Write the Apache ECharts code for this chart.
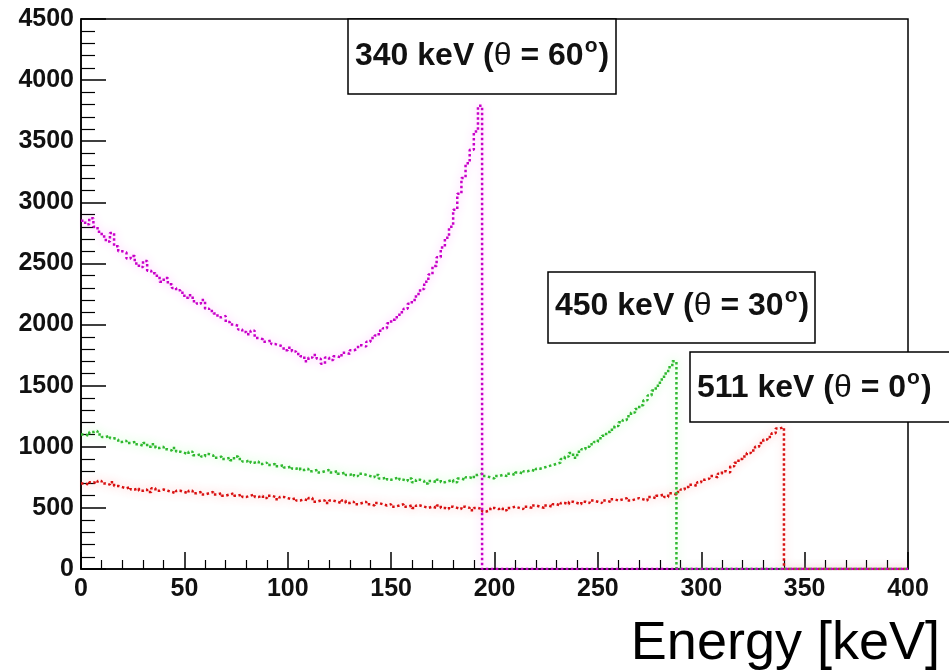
<!DOCTYPE html>
<html>
<head>
<meta charset="utf-8">
<script src="https://cdn.jsdelivr.net/npm/echarts@6/dist/echarts.min.js"></script>
<style>html,body{margin:0;padding:0;background:#fff}#c{width:949px;height:671px}</style>
</head>
<body>
<div id="c"></div>
<script>
// Bin low edges (keV), 2 keV bins
const energy = [0,2,4,6,8,10,12,14,16,18,20,22,24,26,28,30,32,34,36,38,40,42,44,46,48,50,52,54,56,58,60,62,64,66,68,70,72,74,76,78,80,82,84,86,88,90,92,94,96,98,100,102,104,106,108,110,112,114,116,118,120,122,124,126,128,130,132,134,136,138,140,142,144,146,148,150,152,154,156,158,160,162,164,166,168,170,172,174,176,178,180,182,184,186,188,190,192,194,196,198,200,202,204,206,208,210,212,214,216,218,220,222,224,226,228,230,232,234,236,238,240,242,244,246,248,250,252,254,256,258,260,262,264,266,268,270,272,274,276,278,280,282,284,286,288,290,292,294,296,298,300,302,304,306,308,310,312,314,316,318,320,322,324,326,328,330,332,334,336,338,340,342,344,346,348,350,352,354,356,358,360,362,364,366,368,370,372,374,376,378,380,382,384,386,388,390,392,394,396,398,400];

// 340 keV (theta = 60 deg) counts, from 0 keV up to the Compton edge (then 0)
const counts60 = [2850,2820,2870,2800,2760,2720,2680,2750,2640,2600,2590,2540,2560,2500,2470,2520,2440,2420,2400,2350,2380,2330,2300,2280,2260,2220,2240,2190,2170,2200,2130,2110,2090,2060,2070,2020,2000,1990,1960,1940,1920,1950,1890,1880,1860,1870,1840,1830,1820,1790,1810,1780,1760,1740,1700,1730,1750,1720,1680,1730,1710,1740,1730,1770,1760,1790,1800,1830,1820,1860,1890,1910,1950,1970,2010,2040,2060,2100,2130,2170,2200,2250,2290,2350,2410,2480,2550,2630,2710,2800,2940,3070,3200,3320,3430,3580,3790,0];

// 450 keV (theta = 30 deg)
const counts30 = [1100,1090,1120,1130,1100,1080,1090,1070,1060,1040,1050,1030,1040,1020,1010,1030,1000,1020,990,1000,980,970,990,960,950,940,960,930,940,920,940,930,910,920,900,910,890,920,900,880,890,870,880,860,870,850,860,840,850,830,840,820,830,810,820,800,810,790,800,810,790,800,780,790,770,780,760,780,770,760,750,770,740,750,730,740,750,730,720,740,710,730,720,700,720,710,730,710,720,730,710,740,730,750,740,770,780,760,750,740,760,770,760,780,770,790,780,800,810,800,820,830,840,850,860,870,900,920,950,910,960,980,1000,1020,1040,1070,1090,1120,1140,1170,1200,1220,1250,1280,1310,1340,1380,1420,1460,1500,1550,1600,1650,1700,0];

// 511 keV (theta = 0 deg)
const counts0 = [700,690,710,700,720,700,690,710,680,670,660,670,650,660,640,650,630,660,640,650,640,630,620,640,630,620,640,620,630,610,620,630,610,620,600,610,620,600,610,590,600,610,590,600,580,600,590,570,590,580,570,580,560,570,560,580,550,560,560,540,560,550,540,560,540,550,530,540,550,530,520,540,530,520,530,510,520,530,510,520,500,520,510,500,510,500,520,500,490,510,500,490,510,500,480,500,490,470,480,500,490,500,480,500,510,500,490,510,500,520,510,500,520,510,530,520,540,530,550,540,530,550,540,560,550,540,560,550,570,560,570,580,560,570,580,570,560,590,580,600,610,590,620,610,630,650,670,690,680,710,730,740,760,750,780,800,790,840,870,900,920,950,970,1000,1030,1060,1080,1110,1150,1160,0];

const xTicks = [0,50,100,150,200,250,300,350,400];
const yTicks = [0,500,1000,1500,2000,2500,3000,3500,4000,4500];

const labels = [
  {energy: '340 keV', angle: '60', color: '#c800c8'},
  {energy: '450 keV', angle: '30', color: '#2fb82f'},
  {energy: '511 keV', angle: '0', color: '#d81010'}
];

function toData(vals) {
  const d = vals.map((v, i) => [energy[i], v]);
  d.push([energy[energy.length - 1], 0]);
  return d;
}

function mkSeries(name, vals, color, halo) {
  return {
    name: name, type: 'line', step: 'end', showSymbol: false, symbol: 'none',
    data: toData(vals),
    lineStyle: {color: color, width: 2.5, type: [2.5, 2.5], cap: 'butt',
      shadowColor: halo, shadowBlur: 8},
    z: 3, silent: true, animation: false
  };
}

const FONT = '"Liberation Sans", Arial, Helvetica, sans-serif';

function box(x, y, w, h, lab, textY) {
  return {
    type: 'group', z: 50,
    children: [
      {type: 'rect', shape: {x: x, y: y, width: w, height: h},
       style: {fill: '#fff', stroke: '#000', lineWidth: 1.5}, z: 50},
      {type: 'text', x: x + 7, y: textY, z: 51,
       style: {
         text: '{m|' + lab.energy + ' (}{t|\u03b8}{m| = ' + lab.angle + '}{s|o}{m|)}',
         textVerticalAlign: 'middle',
         rich: {
           m: {fontFamily: FONT, fontWeight: 'bold', fontSize: 32, fill: '#111', lineHeight: 44},
           t: {fontFamily: FONT, fontWeight: 'normal', fontSize: 32, fill: '#111', lineHeight: 44},
           s: {fontFamily: FONT, fontWeight: 'bold', fontSize: 21, fill: '#111', lineHeight: 21, padding: [0, 1, 20, 1]}
         }
       }}
    ]
  };
}

const chart = echarts.init(document.getElementById('c'), null, {renderer: 'canvas'});
chart.setOption({
  animation: false,
  backgroundColor: '#fff',
  grid: {left: 81, top: 19, right: 41, bottom: 99, show: true, borderColor: '#000', borderWidth: 1.5, backgroundColor: 'transparent'},
  xAxis: {
    type: 'value', min: xTicks[0], max: xTicks[xTicks.length - 1], interval: xTicks[1] - xTicks[0],
    name: 'Energy [keV]', nameLocation: 'end', nameGap: 32,
    nameTextStyle: {fontFamily: FONT, fontSize: 54, color: '#000', align: 'right', verticalAlign: 'top', padding: [48, 0, 0, 0]},
    axisLine: {show: true, lineStyle: {color: '#000', width: 1.5}},
    axisTick: {show: true, inside: true, length: 17, lineStyle: {color: '#000', width: 1.5}},
    minorTick: {show: true, splitNumber: 5, length: 9, lineStyle: {color: '#000', width: 1.2}},
    axisLabel: {fontFamily: FONT, fontWeight: 'bold', fontSize: 25, color: '#111', margin: 8,
      formatter: v => String(v)},
    splitLine: {show: false}
  },
  yAxis: {
    type: 'value', min: yTicks[0], max: yTicks[yTicks.length - 1], interval: yTicks[1] - yTicks[0],
    axisLine: {show: true, lineStyle: {color: '#000', width: 1.5}},
    axisTick: {show: true, inside: true, length: 25, lineStyle: {color: '#000', width: 1.5}},
    minorTick: {show: true, splitNumber: 5, length: 14, lineStyle: {color: '#000', width: 1.2}},
    axisLabel: {fontFamily: FONT, fontWeight: 'bold', fontSize: 25, color: '#111', margin: 7,
      formatter: v => String(v)},
    splitLine: {show: false}
  },
  series: [
    mkSeries('511 keV', counts0, labels[2].color, 'rgba(255,80,80,0.45)'),
    mkSeries('450 keV', counts30, labels[1].color, 'rgba(90,255,90,0.45)'),
    mkSeries('340 keV', counts60, labels[0].color, 'rgba(255,80,255,0.45)')
  ],
  graphic: [
    box(348, 19, 268, 75, labels[0], 56),
    box(548, 272, 267, 71, labels[1], 306),
    box(690, 352, 275, 70, labels[2], 388)
  ]
});
</script>
</body>
</html>
